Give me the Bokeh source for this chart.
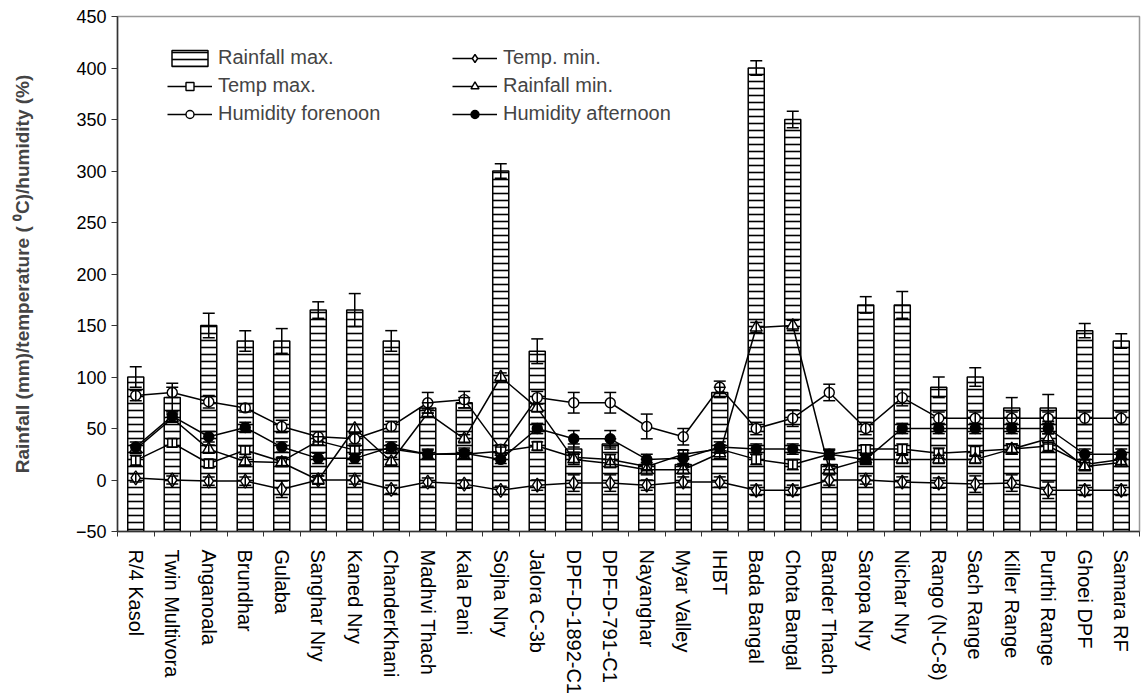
from bokeh.plotting import figure
from bokeh.models import (ColumnDataSource, Whisker, TeeHead, Legend, LegendItem,
                          LinearAxis, Range1d, FixedTicker, FactorRange, CustomJSTickFormatter)
from bokeh.embed import file_html
from bokeh.resources import INLINE

categories = ["R/4 Kasol", "Twin Multivora", "Anganoala", "Brundhar", "Gulaba",
              "Sanghar Nry", "Kaned Nry", "ChanderKhani", "Madhvi Thach", "Kala Pani",
              "Sojha Nry", "Jalora C-3b", "DPF-D-1892-C1", "DPF-D-791-C1", "Nayanghar",
              "Myar Valley", "IHBT", "Bada Bangal", "Chota Bangal", "Bander Thach",
              "Saropa Nry", "Nichar Nry", "Rango (N-C-8)", "Sach Range", "Killer Range",
              "Purthi Range", "Ghoei DPF", "Samara RF"]

rain_max = [100, 80, 150, 135, 135, 165, 165, 135, 70, 75, 300, 125, 30, 35, 15,
            15, 85, 400, 350, 15, 170, 170, 90, 100, 70, 70, 145, 135]
rain_max_err = [10, 14, 12, 10, 12, 8, 16, 10, 5, 5, 7, 12, 5, 5, 5,
                5, 5, 7, 8, 5, 8, 13, 10, 9, 10, 13, 7, 7]

temp_max = [19, 36, 16, 29, 18, 38, 29, 30, 25, 25, 28, 33, 22, 20, 13,
            25, 30, 20, 15, 25, 30, 30, 26, 28, 30, 33, 15, 20]
temp_max_err = [5, 4, 4, 4, 4, 4, 4, 4, 4, 4, 4, 4, 5, 5, 4,
                4, 4, 5, 5, 4, 4, 5, 5, 5, 5, 5, 5, 5]

temp_min = [2, 0, -1, -1, -9, 0, 0, -9, -2, -4, -10, -5, -3, -3, -5,
            -2, -2, -10, -10, 0, 0, -2, -3, -4, -3, -10, -10, -10]
temp_min_err = [4, 4, 4, 4, 8, 4, 4, 4, 4, 4, 4, 5, 8, 8, 5,
                5, 5, 5, 5, 5, 4, 5, 5, 8, 8, 8, 5, 5]

rain_min = [30, 60, 30, 18, 17, 0, 50, 18, 65, 40, 100, 70, 20, 16, 10,
            10, 26, 148, 150, 10, 20, 20, 20, 20, 30, 40, 13, 17]
rain_min_err = [4, 4, 4, 4, 4, 4, 4, 4, 4, 4, 4, 4, 5, 4, 5,
                4, 5, 5, 5, 4, 4, 4, 4, 4, 5, 5, 4, 4]

hum_fore = [82, 85, 76, 70, 52, 42, 40, 52, 75, 78, 30, 80, 75, 75, 52,
            42, 90, 50, 60, 85, 50, 80, 60, 60, 60, 60, 60, 60]
hum_fore_err = [5, 5, 6, 4, 6, 5, 5, 5, 10, 8, 4, 6, 10, 10, 12,
                8, 6, 6, 8, 8, 6, 8, 6, 6, 6, 6, 6, 6]

hum_aft = [32, 62, 42, 51, 32, 21, 21, 32, 25, 26, 20, 50, 40, 40, 20,
           21, 32, 30, 30, 25, 20, 50, 50, 50, 50, 50, 25, 25]
hum_aft_err = [5, 5, 5, 5, 5, 5, 5, 5, 5, 5, 4, 5, 8, 8, 5,
               5, 5, 5, 5, 5, 5, 5, 5, 5, 5, 5, 5, 5]

y_ticks = [-50, 0, 50, 100, 150, 200, 250, 300, 350, 400, 450]

FONT = "Liberation Sans"

def with_err(vals, errs):
    return ([v + e for v, e in zip(vals, errs)], [v - e for v, e in zip(vals, errs)])

data = dict(cat=categories)
series = {
    "rain_max": (rain_max, rain_max_err),
    "temp_max": (temp_max, temp_max_err),
    "temp_min": (temp_min, temp_min_err),
    "rain_min": (rain_min, rain_min_err),
    "hum_fore": (hum_fore, hum_fore_err),
    "hum_aft": (hum_aft, hum_aft_err),
}
for k, (v, e) in series.items():
    up, lo = with_err(v, e)
    data[k] = v
    data[k + "_up"] = up
    data[k + "_lo"] = lo
src = ColumnDataSource(data)

p = figure(x_range=FactorRange(factors=categories), y_range=Range1d(y_ticks[0], y_ticks[-1]),
           width=1141, height=700, output_backend="svg", toolbar_location=None,
           min_border_left=117, min_border_right=2, min_border_top=16, min_border_bottom=169)
p.grid.visible = False
p.outline_line_color = "#999999"
p.outline_line_width = 1.5
p.background_fill_color = "white"
p.border_fill_color = "white"

# bars
bars = p.vbar(x="cat", top="rain_max", bottom=y_ticks[0], width=0.44, source=src,
              fill_color="white", line_color="black", line_width=1.5,
              hatch_pattern="horizontal_line", hatch_color="black",
              hatch_weight=1.6, hatch_scale=7)

def whisk(key):
    w = Whisker(source=src, base="cat", upper=key + "_up", lower=key + "_lo",
                line_color="black", line_width=1.5, level="annotation",
                upper_head=TeeHead(size=12, line_color="black", line_width=1.5),
                lower_head=TeeHead(size=12, line_color="black", line_width=1.5))
    p.add_layout(w)

whisk("rain_max")

marker_spec = {
    "temp_min": dict(marker="diamond", size=14, fill_color="white"),
    "temp_max": dict(marker="square", size=9, fill_color="white"),
    "rain_min": dict(marker="triangle", size=12, fill_color="white"),
    "hum_fore": dict(marker="circle", size=10, fill_color="white"),
    "hum_aft": dict(marker="circle", size=10, fill_color="black"),
}
rend = {}
for k in ["temp_min", "temp_max", "rain_min", "hum_fore", "hum_aft"]:
    ln = p.line(x="cat", y=k, source=src, line_color="black", line_width=1.5)
    sc = p.scatter(x="cat", y=k, source=src, line_color="black", line_width=1.4,
                   **marker_spec[k])
    rend[k] = [ln, sc]
    whisk(k)

# axes
p.yaxis.ticker = FixedTicker(ticks=y_ticks)
p.yaxis.axis_label = "Rainfall (mm)/temperature ( \u2070C)/humidity (%)"
p.yaxis.axis_label_text_font = FONT
p.yaxis.axis_label_text_font_style = "bold"
p.yaxis.axis_label_text_font_size = "19px"
p.yaxis.axis_label_standoff = 40
p.yaxis.major_label_text_font = FONT
p.yaxis.major_label_text_font_size = "18px"
p.yaxis.major_label_text_color = "black"
p.yaxis.axis_line_color = "#333333"
p.yaxis.axis_line_width = 1.5
p.yaxis.major_tick_out = 6
p.yaxis.major_tick_in = 0
p.yaxis.major_tick_line_color = "#333333"
p.yaxis.minor_tick_line_color = None

xax = p.xaxis[0]
xax.axis_line_color = None
xax.major_tick_line_color = None
xax.major_label_orientation = "vertical"
xax.major_label_text_font = FONT
xax.major_label_text_font_size = "20px"
xax.major_label_text_color = "black"
xax.major_label_standoff = 7

# boundary ticks between categories (synthetic coordinates of the factor range)
bax = LinearAxis(ticker=FixedTicker(ticks=list(range(len(categories) + 1))),
                 formatter=CustomJSTickFormatter(code="return ''"),
                 major_label_standoff=0,
                 major_tick_out=5, major_tick_in=0, minor_tick_line_color=None,
                 axis_line_color="#333333", axis_line_width=1.5,
                 major_tick_line_color="#333333")
p.below = [bax] + list(p.below)

# legends
def mk_legend(items, loc):
    lg = Legend(items=items, location=loc, border_line_color=None,
                background_fill_alpha=0, label_text_font=FONT,
                label_text_font_size="20px", glyph_width=45, glyph_height=20,
                label_standoff=6, spacing=5, padding=0, margin=0, label_height=20)
    p.add_layout(lg)

mk_legend([LegendItem(label="Rainfall max.", renderers=[bars]),
           LegendItem(label="Temp max.", renderers=rend["temp_max"]),
           LegendItem(label="Humidity forenoon", renderers=rend["hum_fore"])], (50, 406))
mk_legend([LegendItem(label="Temp. min.", renderers=rend["temp_min"]),
           LegendItem(label="Rainfall min.", renderers=rend["rain_min"]),
           LegendItem(label="Humidity afternoon", renderers=rend["hum_aft"])], (335, 406))

open("out.html", "w").write(file_html(p, INLINE))
